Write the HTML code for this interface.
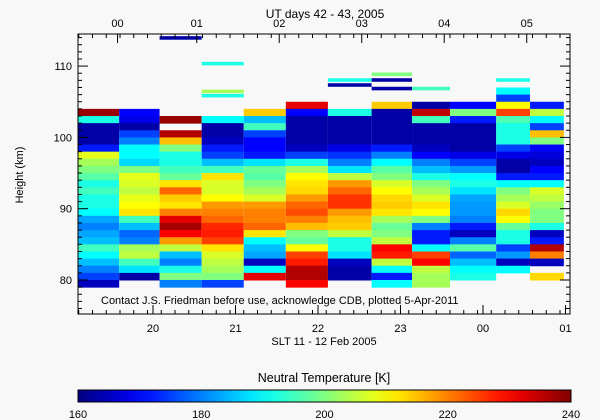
<!DOCTYPE html>
<html><head><meta charset="utf-8">
<style>
body{margin:0;background:#f8f8f8;}
svg{display:block;font-family:"Liberation Sans",sans-serif;}
</style></head>
<body>
<svg id="chart" width="600" height="420" viewBox="0 0 600 420" xmlns="http://www.w3.org/2000/svg">
<rect width="600" height="420" fill="#f8f8f8"/>
<g id="cells"></g>
<g id="axes"></g>
</svg>
<script>
// ----- data -----
const colStart = [19.09,19.59,20.08,20.59,21.10,21.61,22.12,22.65,23.14,23.60,24.16,24.57];
const colEnd   = [19.59,20.08,20.59,21.10,21.61,22.12,22.65,23.14,23.60,24.16,24.57,24.98];
const colTop = [104,104,103,103,104,105,104,105,105,105,107,105];
const colVals = [
 [238,192,163,163,163,172,208,203,200,197,192,195,192,192,190,183,180,183,185,195,190,185,180,175,165],
 [170,168,163,175,180,190,190,187,200,208,207,205,208,210,212,195,185,178,180,203,205,195,188,163],
 [238,null,236,215,200,192,192,195,198,212,222,214,212,220,232,237,230,218,205,185,180,192,200,180],
 [190,163,163,165,172,175,185,195,212,207,207,210,218,220,222,227,228,225,212,207,205,203,200,175],
 [214,185,195,175,170,170,172,188,198,197,200,203,207,218,220,220,222,212,190,185,183,165,190,232],
 [232,170,163,163,163,163,165,175,192,203,210,212,213,218,222,224,220,215,200,198,210,225,228,236,236,230],
 [192,163,163,163,163,168,174,180,188,205,218,222,226,226,218,215,214,205,192,192,188,165,163,163],
 [214,163,163,163,163,163,172,180,190,197,200,207,210,213,214,212,203,198,200,205,230,228,205,190,172,190],
 [163,235,195,163,163,163,165,170,180,185,192,200,203,207,212,210,200,180,172,172,190,225,230,205,203,203],
 [170,200,172,163,163,163,163,168,175,182,190,192,188,183,182,182,180,172,165,180,197,178,185,190,192],
 [190,175,210,225,196,192,192,192,175,168,163,163,172,190,200,203,207,213,210,198,192,192,175,182,165,190],
 [172,205,190,175,215,200,170,167,165,170,172,190,207,205,202,200,200,192,165,172,236,220,165,null,213]
];
// isolated high stripes: column index, height (km), temperature
const stripeCol = [2,3,3,3,6,6,7,7,7,8,10];
const stripeH   = [114.2,110.6,106.7,106.1,108.3,107.6,109.1,108.3,107.1,107.1,108.3];
const stripeVal = [163,192,203,192,192,163,200,163,163,195,192];
const yTicks = [80,90,100,110];
const xTickHours = [20,21,22,23,24,25];
const xTickLabels = ["20","21","22","23","00","01"];
const utHours = [19.57,20.53,21.53,22.53,23.53,24.53];
const utLabels = ["00","01","02","03","04","05"];
const cbTicks = [160,180,200,220,240];

// ----- scales -----
const X0=78,X1=570,Y0=34,Y1=314;
const xs = t => 153 + (t-20)*82.5;
const ys = h => 280 - (h-80)*7.13;
const tMin=160,tMax=240;
function jet(v){
  let f=(v-tMin)/(tMax-tMin); f=Math.max(0,Math.min(1,f));
  const c=x=>Math.round(255*Math.max(0,Math.min(1,x)));
  const r=c(Math.min(4*f-1.5,-4*f+4.5)), g=c(Math.min(4*f-0.5,-4*f+3.5)), b=c(Math.min(4*f+0.5,-4*f+2.5));
  return `rgb(${r},${g},${b})`;
}
const NS="http://www.w3.org/2000/svg";
const cells=document.getElementById('cells'), axes=document.getElementById('axes');
function mk(tag,attrs,parent){const e=document.createElementNS(NS,tag);for(const k in attrs)e.setAttribute(k,attrs[k]);parent.appendChild(e);return e;}

colVals.forEach((vals,ci)=>{
  const x=xs(colStart[ci]), w=xs(colEnd[ci])-x;
  vals.forEach((v,k)=>{
    if(v===null)return;
    const htop=colTop[ci]-k;
    const r=mk('rect',{x:x,y:ys(htop),width:w,height:ys(htop-1)-ys(htop)+0.5,fill:jet(v)},cells);
    
    
  });
});
stripeCol.forEach((ci,i)=>{
  const x=xs(colStart[ci]), w=xs(colEnd[ci])-x;
  const r=mk('rect',{x:x,y:ys(stripeH[i]),width:w,height:ys(stripeH[i]-0.5)-ys(stripeH[i]),fill:jet(stripeVal[i])},cells);
  
  
});

// frame
const fr=mk('rect',{x:X0,y:Y0,width:X1-X0,height:Y1-Y0,fill:'none',stroke:'#000','stroke-width':1},axes);


for(let h=76;h<=114;h++){
  const y=ys(h), L=(h%10===0)?10:4;
  mk('line',{x1:X0,x2:X0+L,y1:y,y2:y,stroke:'#000'},axes);
  mk('line',{x1:X1,x2:X1-L,y1:y,y2:y,stroke:'#000'},axes);
}
yTicks.forEach(h=>{
  const t=mk('text',{x:X0-6,y:ys(h)+4,'text-anchor':'end','font-size':11},axes);
  t.textContent=h;
  
  
});
for(let t=19.1;t<=25;t+=1/6){
  const x=xs(t); if(x<X0||x>X1)continue;
  mk('line',{x1:x,x2:x,y1:Y1,y2:Y1-4,stroke:'#000'},axes);
  mk('line',{x1:x,x2:x,y1:Y0,y2:Y0+4,stroke:'#000'},axes);
}
xTickHours.forEach((hr,i)=>{
  const x=xs(hr);
  mk('line',{x1:x,x2:x,y1:Y1,y2:Y1-9,stroke:'#000'},axes);
  const t=mk('text',{x:x,y:332,'text-anchor':'middle','font-size':11},axes);
  t.textContent=xTickLabels[i];
  
  
});
utHours.forEach((hr,i)=>{
  const x=xs(hr);
  mk('line',{x1:x,x2:x,y1:Y0,y2:Y0+9,stroke:'#000'},axes);
  const t=mk('text',{x:x,y:27,'text-anchor':'middle','font-size':11},axes);
  t.textContent=utLabels[i];
  
  
});
const grad=mk('linearGradient',{id:'jetg',x1:0,x2:1,y1:0,y2:0},mk('defs',{},document.getElementById('chart')));
for(let i=0;i<=20;i++){const v=tMin+(tMax-tMin)*i/20;mk('stop',{offset:(i/20),'stop-color':jet(v)},grad);}
const cbx=d=>78+(d-tMin)/(tMax-tMin)*(571-78);
const cb=mk('rect',{x:78,y:390,width:493,height:12,fill:'url(#jetg)',stroke:'#000'},axes);


cbTicks.forEach(v=>{
  const t=mk('text',{x:cbx(v),y:418,'text-anchor':'middle','font-size':11},axes);
  t.textContent=v;
  
  
});
</script>
<svg style="position:absolute;left:0;top:0" width="600" height="420" xmlns="http://www.w3.org/2000/svg" font-family="Liberation Sans, sans-serif">
<text x="325" y="18" text-anchor="middle" font-size="12">UT days 42 - 43, 2005</text>
<text x="324" y="345" text-anchor="middle" font-size="11">SLT 11 - 12 Feb 2005</text>
<text transform="translate(23,175) rotate(-90)" text-anchor="middle" font-size="11">Height (km)</text>
<text x="101" y="304" font-size="11">Contact J.S. Friedman before use, acknowledge CDB, plotted 5-Apr-2011</text>
<text x="324" y="382" text-anchor="middle" font-size="12.5">Neutral Temperature [K]</text>
</svg>
</body></html>
